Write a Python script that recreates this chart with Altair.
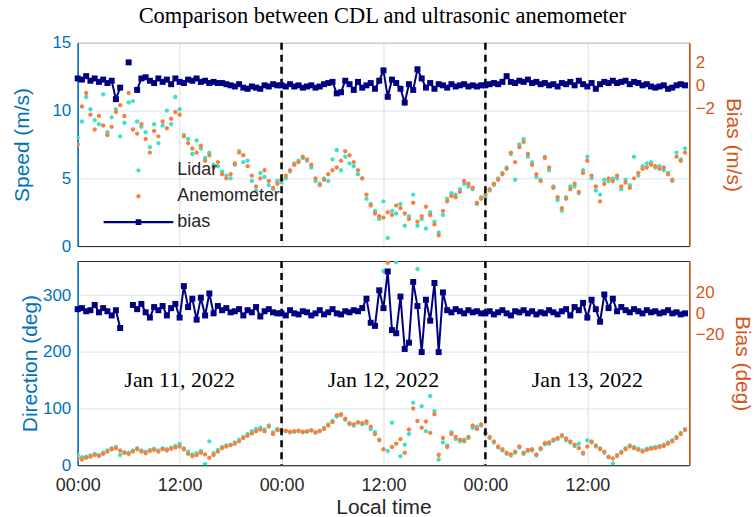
import altair as alt
import pandas as pd

# ---------------- data (30-min samples, Jan 11 00:00 .. Jan 13 23:30) ----------------
START = "2022-01-11 00:00"

anem_speed = [
    7.5, 10.3, 11.3, 9.7, 8.6, 9.6, 8.9, 8.2, 8.8, 9.9, 10.4, 9.6,
    11.3, 8.6, 8.3, 9.0, 7.9, 6.9, 8.5, 8.1, 9.2, 8.7, 9.4, 9.9,
    9.7, 8.1, 7.6, 7.2, 6.9, 7.4, 6.3, 6.7, 5.8, 6.2, 5.3, 5.0,
    5.3, 6.1, 6.9, 6.7, 5.9, 5.2, 4.4, 5.0, 5.6, 4.8, 4.3, 4.6,
    4.9, 5.2, 5.6, 6.0, 6.2, 6.6, 6.4, 6.0, 5.0, 4.5, 4.9, 5.3,
    5.6, 5.8, 6.3, 7.0, 6.7, 6.2, 5.6, 5.0, 3.8, 3.0, 2.4, 2.2,
    2.1, 2.5, 2.3, 3.0, 2.8, 2.4, 2.0, 3.2, 1.8, 2.2, 2.9, 2.3,
    1.6, 0.8, 2.6, 3.3, 3.7, 3.6, 4.0, 4.8, 4.6, 4.3, 3.2, 3.5,
    3.8, 4.2, 4.6, 4.9, 5.3, 5.7, 6.9, 6.2, 7.3, 7.7, 6.8, 6.0,
    5.3, 4.8, 6.5, 5.8, 4.3, 3.6, 2.8, 3.5, 4.2, 4.6, 4.0, 5.4,
    6.3, 5.2, 4.4, 3.3, 4.6, 5.0, 4.8, 5.2, 4.4, 4.7, 4.3, 5.0,
    5.4, 5.7, 5.8, 6.0, 5.9, 5.7, 5.8, 5.3, 4.9, 6.6, 6.3, 6.9,
]

lidar_speed = [
    8.0, 9.2, 11.0, 10.1, 9.3, 9.0, 11.2, 8.4, 9.5, 10.1, 8.1, 9.1,
    10.6, 10.7, 9.2, 8.8, 8.4, 7.3, 9.0, 7.6, 8.9, 10.0, 9.0, 11.0,
    10.1, 8.2, 7.9, 6.8, 7.8, 7.2, 6.5, 6.9, 6.0, 5.9, 5.5, 5.2,
    5.0, 6.0, 7.0, 6.2, 6.3, 4.8, 4.1, 5.4, 5.1, 4.5, 4.2, 4.8,
    4.7, 5.0, 5.5, 6.1, 6.3, 6.5, 6.3, 5.8, 4.8, 4.6, 5.0, 4.8,
    6.4, 7.1, 5.6, 6.6, 6.1, 5.9, 5.3, 5.0, 3.5, 3.1, 2.6, 2.0,
    3.3, 0.6, 2.6, 2.4, 3.1, 1.5, 2.2, 3.8, 1.5, 2.0, 1.3, 2.5,
    1.8, 1.0, 2.3, 3.5, 3.9, 3.8, 4.2, 4.6, 4.4, 4.2, 3.1, 3.6,
    3.6, 4.1, 4.5, 5.0, 5.4, 5.8, 6.8, 4.9, 7.5, 7.9, 6.6, 6.2,
    5.1, 4.9, 6.6, 5.6, 4.4, 3.4, 2.6, 3.6, 4.4, 4.4, 3.9, 5.6,
    6.6, 5.0, 4.1, 3.8, 4.9, 4.8, 5.0, 5.0, 4.2, 4.9, 4.5, 6.6,
    5.2, 5.9, 6.1, 6.2, 5.8, 5.9, 5.6, 5.4, 4.8, 6.9, 6.4, 7.2,
]

speed_bias = [
    0.6, 0.5, 0.8, 0.4, 0.6, 0.3, 0.5, 0.2, 0.4, -1.2, -0.2, None,
    2.0, None, -0.4, 0.6, 0.7, 0.4, 0.2, 0.6, 0.3, 0.5, 0.1, 0.6,
    0.3, 0.2, 0.5, 0.4, 0.6, 0.3, 0.4, 0.2, 0.3, 0.2, 0.2, 0.1,
    0.0, -0.1, 0.1, -0.2, -0.3, -0.1, -0.2, -0.3, 0.0, -0.1, 0.1, 0.0,
    0.0, -0.1, 0.1, -0.1, 0.0, -0.2, -0.1, 0.0, -0.2, -0.1, 0.1, 0.2,
    0.3, -0.7, -0.6, 0.4, 0.1, -0.4, 0.3, -0.2, 0.0, 0.2, -0.3, 0.4,
    1.3, -1.0, 0.5, 0.2, -0.3, -1.5, 0.1, -0.4, 1.4, 0.6, -0.2, 0.2,
    -0.3, 0.1, 0.0, -0.2, 0.1, -0.1, 0.0, 0.1, -0.1, 0.0, -0.1, 0.0,
    0.0, 0.1, 0.2, 0.1, 0.3, 0.8, 0.3, 0.2, 0.4, 0.3, 0.5, 0.2,
    0.3, 0.1, 0.2, 0.0, 0.1, -0.1, 0.2, 0.1, 0.3, 0.0, 0.4, 0.1,
    -0.1, 0.2, -0.3, 0.1, 0.3, 0.2, 0.4, 0.2, 0.3, 0.4, 0.1, 0.3,
    0.2, 0.0, 0.1, -0.1, -0.2, -0.1, 0.0, -0.3, -0.2, 0.0, 0.1, 0.0,
]

anem_dir = [
    12, 10, 13, 15, 18, 16, 20, 24, 28, 30, 26, 22,
    20, 24, 28, 24, 21, 25, 27, 24, 28, 26, 29, 31,
    33, 28, 20, 16, 18, 22, 19, 13, 18, 24, 30, 33,
    35, 38, 42, 48, 52, 56, 60, 63, 60, 68, 55, 62,
    60, 61, 59, 60, 61, 59, 60, 61, 58, 60, 64, 70,
    76, 88, 90, 82, 74, 72, 76, 74, 77, 68, 55, 44,
    28, 357, 32, 38, 46, 22, 63, 100, 78, 66, 77, 57,
    90, 18, 48, 32, 55, 50, 45, 42, 50, 70, 64, 72,
    57, 50, 42, 33, 28, 22, 19, 24, 33, 22, 27, 28,
    19, 30, 39, 40, 45, 48, 53, 47, 42, 36, 30, 22,
    33, 42, 35, 28, 24, 15, 12, 16, 22, 28, 33, 30,
    27, 24, 27, 29, 30, 32, 34, 38, 42, 48, 55, 62,
]

lidar_dir = [
    18, 14, 15, 17, 20, 18, 22, 26, 30, 32, 18, 23,
    22, 26, 30, 26, 24, 27, 29, 26, 30, 28, 31, 34,
    38, 30, 24, 19, 21, 25, 2, 42, 21, 27, 32, 35,
    36, 40, 45, 50, 55, 60, 64, 66, 63, 70, 58, 64,
    62, 60, 58, 59, 60, 58, 59, 62, 57, 61, 66, 72,
    78, 86, 88, 80, 72, 70, 75, 72, 74, 64, 58, 45,
    342, 25, 75, 358, 16, 36, 55, 110, 346, 104, 60, 122,
    95, 10, 40, 35, 58, 46, 42, 45, 48, 66, 68, 70,
    55, 48, 40, 31, 26, 20, 17, 22, 31, 20, 25, 26,
    17, 28, 37, 38, 43, 46, 51, 44, 40, 34, 38, 20,
    44, 40, 33, 30, 22, 14, 3, 18, 24, 30, 35, 32,
    29, 26, 29, 31, 32, 34, 36, 40, 44, 50, 57, 64,
]

dir_bias = [
    4, 5, 2, 3, 8, 1, 5, 2, -2, 3, -14, None,
    None, 8, 4, 9, 1, -4, 6, 3, 7, -2, 5, 9,
    -4, 26, 6, 14, -6, 15, -2, 19, 0, 7, 3, 5,
    1, 2, 4, -2, 3, 1, 6, -3, 2, 4, 1, 0,
    0, -2, 3, 0, -1, 2, 1, -2, 0, 3, -1, 1,
    4, 0, -1, 2, 1, 3, 2, 5, 14, -9, -12, 22,
    5, 40, -16, -19, 16, -34, -28, 30, 7, -37, 13, -7,
    29, -37, 20, 3, 1, 4, 2, 0, 3, 1, 2, 0,
    0, 2, -1, 1, 3, 0, -2, 2, 1, 3, 0, 2,
    -1, 1, 0, 3, 1, -1, 2, 4, -2, 6, 3, 10,
    -4, 13, 4, -8, 18, 5, 14, 2, 6, 3, 1, 4,
    2, 0, 3, 1, 2, 0, 1, 3, 0, 1, -1, 0,
]

day_boundaries = ["2022-01-12T00:00:00", "2022-01-13T00:00:00"]
day_labels = ["Jan 11, 2022", "Jan 12, 2022", "Jan 13, 2022"]
day_label_times = ["2022-01-11T12:00:00", "2022-01-12T12:00:00", "2022-01-13T12:00:00"]
day_label_level = [150, 150, 150]

series_names = ["Lidar", "Anemometer", "bias"]

# ---------------- styling ----------------
BLUE = "#0072BD"
ORANGE = "#D95319"
CYAN = "#3FE0CA"
ORANGE_DOT = "#F8803E"
NAVY = "#000080"
FRAME = "#262626"
SANS = "Liberation Sans"
SERIF = "Liberation Serif"

DOT = "M-0.22,0A0.22,0.22,0,1,1,0.22,0A0.22,0.22,0,1,1,-0.22,0Z"
BIAS_SYM = "M-3.5,-0.12H3.5V0.12H-3.5ZM-0.28,-0.28H0.28V0.28H-0.28Z"

n = len(anem_speed)
times = pd.date_range(START, periods=n, freq="30min").strftime("%Y-%m-%dT%H:%M:%S").tolist()


def bias_frame(vals):
    df = pd.DataFrame({"time": times, "bias": vals})
    df["seg"] = df["bias"].isna().cumsum()
    return df.dropna()


speed_df = pd.DataFrame({
    "time": times + times,
    "value": lidar_speed + anem_speed,
    "series": ["Lidar"] * n + ["Anemometer"] * n,
})
dir_lidar_df = pd.DataFrame({"time": times, "value": lidar_dir})
dir_anem_df = pd.DataFrame({"time": times, "value": anem_dir})
sb_df = bias_frame(speed_bias)
db_df = bias_frame(dir_bias)
bound_df = pd.DataFrame({"time": day_boundaries})
label_df = pd.DataFrame({"time": day_label_times, "level": day_label_level, "label": day_labels})

x_scale = alt.Scale(domain=[alt.DateTime(year=2022, month=1, date=11, hours=0),
                            alt.DateTime(year=2022, month=1, date=14, hours=0)])
tick_vals = [alt.DateTime(year=2022, month=1, date=d, hours=h) for d in (11, 12, 13) for h in (0, 12)]

axis_x_top = alt.Axis(values=tick_vals, format="%H:%M", labels=False, ticks=False, title=None,
                      grid=True, gridColor="#dddddd", domainColor=FRAME)
axis_x_bot = alt.Axis(values=tick_vals, format="%H:%M", ticks=False, title="Local time",
                      grid=True, gridColor="#dddddd", domainColor=FRAME, labelColor=FRAME,
                      titleColor=FRAME, labelPadding=11, titlePadding=3, labelFontSize=18,
                      titleFontSize=21, labelFlush=False, labelOverlap=False)

X_top = alt.X("time:T", scale=x_scale, axis=axis_x_top)
X_bot = alt.X("time:T", scale=x_scale, axis=axis_x_bot)


def left_axis(title, values, pad):
    return alt.Axis(title=title, values=values, titleColor=BLUE, labelColor=BLUE, domainColor=BLUE,
                    domainWidth=1.5, ticks=False, labelPadding=7, titlePadding=pad, grid=True,
                    gridColor="#d5e6f5", titleFontSize=21)


def right_axis(title, values):
    return alt.Axis(title=title, orient="right", values=values, titleColor=ORANGE, labelColor=ORANGE,
                    domainColor=ORANGE, domainWidth=1.5, ticks=False, labelPadding=6, titlePadding=8,
                    grid=False, titleFontSize=21)


legend = alt.Legend(orient="none", legendX=50, legendY=117, title=None, labelFont=SANS,
                    labelFontSize=18, labelColor=FRAME, labelOffset=28, rowPadding=6,
                    symbolSize=400, padding=0)

# ---------------- top panel ----------------
Y_speed = alt.Y("value:Q", scale=alt.Scale(domain=[0, 15], nice=False),
                axis=left_axis("Speed (m/s)", [0, 5, 10, 15], 19))
Y_sbias = alt.Y("bias:Q", scale=alt.Scale(domain=[-14, 3.7], nice=False, zero=False),
                axis=right_axis("Bias (m/s)", [-2, 0, 2]))

scatter_top = alt.Chart(speed_df).mark_point(filled=True, size=400, opacity=1, strokeWidth=0, clip=True).encode(
    x=X_top, y=Y_speed,
    color=alt.Color("series:N", scale=alt.Scale(domain=series_names, range=[CYAN, ORANGE_DOT, NAVY]), legend=legend),
    shape=alt.Shape("series:N", scale=alt.Scale(domain=series_names, range=[DOT, DOT, BIAS_SYM]), legend=legend),
)
rules_top = alt.Chart(bound_df).mark_rule(color="black", strokeDash=[7, 5], strokeWidth=2.5).encode(x=X_top)
line_top = alt.Chart(sb_df).mark_line(color=NAVY, strokeWidth=2).encode(x=X_top, y=Y_sbias, detail="seg:N")
sq_top = alt.Chart(sb_df).mark_square(color=NAVY, size=36, opacity=1).encode(x=X_top, y=Y_sbias)

top = alt.layer(
    alt.layer(scatter_top, rules_top),
    alt.layer(line_top, sq_top),
).resolve_scale(y="independent").properties(width=614, height=204)

# ---------------- bottom panel ----------------
Y_dir = alt.Y("value:Q", scale=alt.Scale(domain=[0, 360], nice=False),
              axis=left_axis("Direction (deg)", [0, 100, 200, 300], 2))
Y_dir_lbl = alt.Y("level:Q", scale=alt.Scale(domain=[0, 360], nice=False),
                  axis=left_axis("Direction (deg)", [0, 100, 200, 300], 2))
Y_dbias = alt.Y("bias:Q", scale=alt.Scale(domain=[-145, 50], nice=False, zero=False),
                axis=right_axis("Bias (deg)", [-20, 0, 20]))

lidar_bot = alt.Chart(dir_lidar_df).mark_point(filled=True, size=400, opacity=1, strokeWidth=0,
                                               shape=DOT, color=CYAN, clip=True).encode(x=X_bot, y=Y_dir)
anem_bot = alt.Chart(dir_anem_df).mark_point(filled=True, size=400, opacity=1, strokeWidth=0,
                                             shape=DOT, color=ORANGE_DOT, clip=True).encode(x=X_bot, y=Y_dir)
labels_bot = alt.Chart(label_df).mark_text(font=SERIF, fontSize=22, color="black").encode(
    x=X_bot, y=Y_dir_lbl, text="label:N")
rules_bot = alt.Chart(bound_df).mark_rule(color="black", strokeDash=[7, 5], strokeWidth=2.5).encode(x=X_bot)
line_bot = alt.Chart(db_df).mark_line(color=NAVY, strokeWidth=2).encode(x=X_bot, y=Y_dbias, detail="seg:N")
sq_bot = alt.Chart(db_df).mark_square(color=NAVY, size=36, opacity=1).encode(x=X_bot, y=Y_dbias)

bottom = alt.layer(
    alt.layer(lidar_bot, anem_bot, labels_bot, rules_bot),
    alt.layer(line_bot, sq_bot),
).resolve_scale(y="independent").properties(width=614, height=205)

chart = alt.vconcat(top, bottom, spacing=4).properties(
    title=alt.Title("Comparison between CDL and ultrasonic anemometer", font=SERIF, fontSize=22.5,
                    fontWeight="normal", color="black", anchor="middle", offset=6),
    padding={"left": 11, "top": 4, "right": 0, "bottom": 0},
).configure_view(stroke=FRAME, strokeWidth=1).configure_axis(
    labelFont=SANS, titleFont=SANS, labelFontSize=17, titleFontSize=19, titleFontWeight="normal"
)

chart.save("out.html", embed_options={"renderer": "svg", "actions": False})
